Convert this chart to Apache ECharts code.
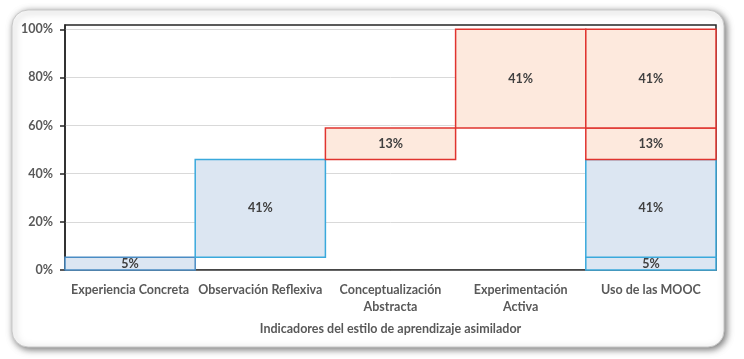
<!DOCTYPE html>
<html>
<head>
<meta charset="utf-8">
<script src="https://cdn.jsdelivr.net/npm/echarts@6/dist/echarts.min.js"></script>
<style>
html,body{margin:0;padding:0;background:#fff;}
#c{width:744px;height:359px;}
</style>
</head>
<body>
<div id="c"></div>
<script>
// ---- data ----
const categories = ['Experiencia Concreta', 'Observación Reflexiva', 'Conceptualización\nAbstracta', 'Experimentación\nActiva', 'Uso de las MOOC'];
const indicatorNames = ['Experiencia Concreta', 'Observación Reflexiva', 'Conceptualización Abstracta', 'Experimentación Activa'];
const indicatorValues = [5.3, 40.6, 13.1, 41.0];
const indicatorGroup = ['blue', 'blue', 'red', 'red'];
const yTicks = [0, 20, 40, 60, 80, 100];
const axisTitle = 'Indicadores del estilo de aprendizaje asimilador';

// ---- build (waterfall segments + total column) ----
const FONT = 'Lato, "Open Sans", sans-serif';
const STYLE = {
  blue: { fill: '#dce6f2', line: '#3aa9dc' },
  red: { fill: '#fde9dd', line: '#e0342f' }
};
const segments = [];
let acc = 0;
indicatorValues.forEach((v, i) => {
  segments.push([i, acc, acc + v, i, v]);               // waterfall step
  acc += v;
});
acc = 0;
indicatorValues.forEach((v, i) => {
  segments.push([categories.length - 1, acc, acc + v, i, v]); // total column
  acc += v;
});

function renderItem(params, api) {
  const cat = api.value(0), lo = api.value(1), hi = api.value(2), g = api.value(3), v = api.value(4);
  const p0 = api.coord([cat, lo]);
  const p1 = api.coord([cat, hi]);
  const w = api.size([1, 0])[0];
  const st = STYLE[indicatorGroup[g]];
  let line = st.line;
  if (cat === 0) line = '#4a8cc4';
  return {
    type: 'rect',
    shape: { x: p0[0] - w / 2, y: p1[1], width: w, height: p0[1] - p1[1] },
    style: { fill: st.fill, stroke: line, lineWidth: 1.5 },
    textContent: {
      style: { text: Math.round(v) + '%', fontFamily: FONT, fontWeight: 'bold', fontSize: 12.5, fill: '#404040' }
    },
    textConfig: { position: 'inside' }
  };
}

const chart = echarts.init(document.getElementById('c'), null, { renderer: 'canvas' });
chart.setOption({
  animation: false,
  backgroundColor: '#fff',
  graphic: [{
    type: 'rect', z: -10, silent: true,
    shape: { x: 12, y: 10, width: 712, height: 337, r: 16 },
    style: { fill: '#fff', stroke: '#c8c8c8', lineWidth: 1, shadowBlur: 7, shadowOffsetX: 2, shadowOffsetY: 2, shadowColor: 'rgba(0,0,0,0.55)' }
  }],
  grid: { left: 65, right: 28, top: 25, bottom: 89, show: true, borderColor: '#262626', borderWidth: 1.5, backgroundColor: 'transparent' },
  xAxis: {
    type: 'category', data: categories,
    name: axisTitle, nameLocation: 'middle', nameGap: 52,
    nameTextStyle: { fontFamily: FONT, fontWeight: 'bold', fontSize: 12.5, color: '#595959' },
    axisLine: { lineStyle: { color: '#404040', width: 1.5 } },
    axisTick: { show: false },
    axisLabel: { interval: 0, margin: 11, fontFamily: FONT, fontWeight: 'bold', fontSize: 12.5, color: '#595959', lineHeight: 17 }
  },
  yAxis: {
    type: 'value', min: 0, max: 101.8, interval: 20,
    axisLine: { show: true, lineStyle: { color: '#262626', width: 1.5 } },
    axisTick: { show: true, length: 5, customValues: yTicks, lineStyle: { color: '#262626', width: 1.5 } },
    axisLabel: { customValues: yTicks, margin: 12, fontFamily: FONT, fontWeight: 'bold', fontSize: 12.5, color: '#595959', formatter: v => v + '%' },
    splitLine: { show: true, lineStyle: { color: '#d9d9d9', width: 1 } }
  },
  series: [{
    type: 'custom',
    renderItem: renderItem,
    data: segments,
    encode: { x: 0, y: [1, 2] },
    silent: true
  }]
});
</script>
</body>
</html>
